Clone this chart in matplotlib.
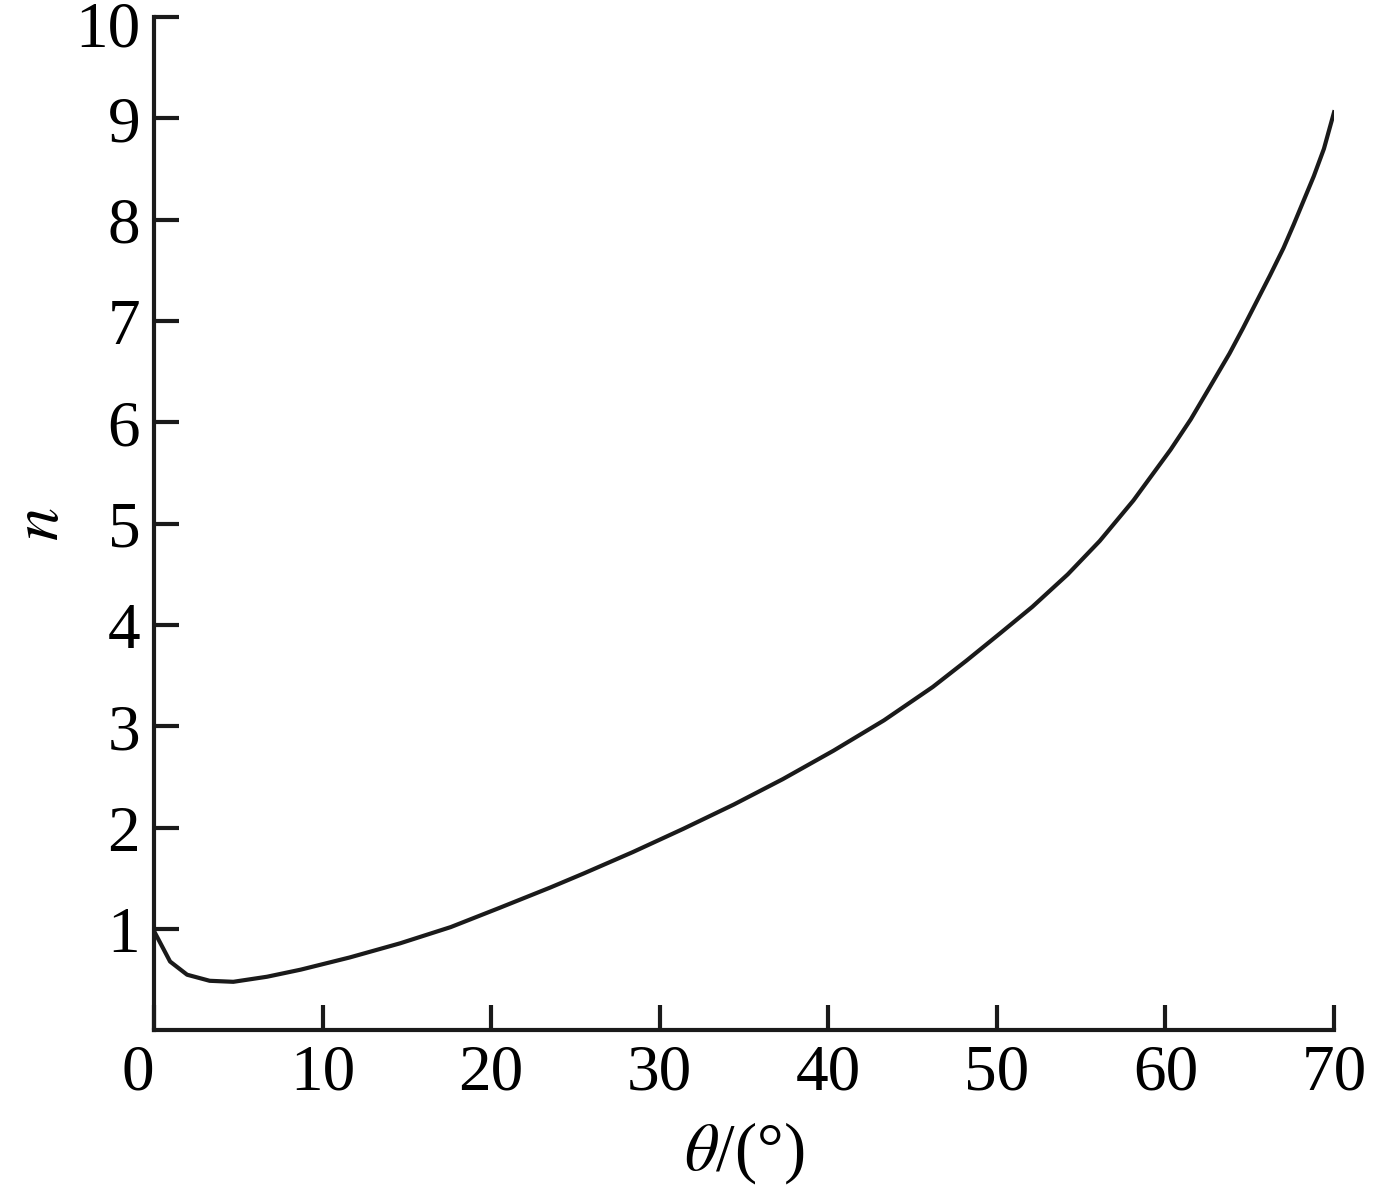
import matplotlib
matplotlib.use("Agg")
import matplotlib.pyplot as plt
import matplotlib.transforms as mtransforms

plt.rcParams['font.family'] = 'Liberation Serif'
plt.rcParams['mathtext.fontset'] = 'stix'

# angle (deg) and n
theta = [0, 0.95, 1.96, 3.3, 4.7, 6.7, 8.7, 11.6, 14.6, 17.6, 20.5, 23.5,
         25.5, 28.4, 31.4, 34.4, 37.3, 40.3, 43.3, 46.2, 48.2, 50.2, 52.1,
         54.2, 56.1, 58.1, 60.3, 61.5, 62.6, 63.8, 64.6, 65.4, 66.2, 67.0,
         67.6, 68.2, 68.8, 69.4, 70.0]
n = [0.98, 0.68, 0.55, 0.49, 0.48, 0.53, 0.60, 0.72, 0.86, 1.02, 1.21, 1.41,
     1.55, 1.76, 1.99, 2.23, 2.48, 2.76, 3.06, 3.39, 3.65, 3.92, 4.18,
     4.50, 4.83, 5.23, 5.73, 6.03, 6.34, 6.68, 6.93, 7.19, 7.45, 7.72,
     7.95, 8.19, 8.43, 8.70, 9.06]

xticks = [0, 10, 20, 30, 40, 50, 60, 70]
yticks = [1, 2, 3, 4, 5, 6, 7, 8, 9, 10]

fig = plt.figure(figsize=(13.83, 11.91), dpi=100)
ax = fig.add_axes([0.1114, 0.1348, 0.8532, 0.8509])
ax.plot(theta, n, color='#1a1a1a', lw=3.0)

ax.set_xlim(0, 70)
ax.set_ylim(0, 10)
ax.set_xticks(xticks)
ax.set_yticks(yticks)
ax.spines['top'].set_visible(False)
ax.spines['right'].set_visible(False)
for s in ['left', 'bottom']:
    ax.spines[s].set_linewidth(3)
    ax.spines[s].set_color('#1a1a1a')
ax.tick_params(direction='in', length=18, width=3, color='#1a1a1a',
               labelsize=47, pad=10)
ax.get_xticklabels()[0].set_horizontalalignment('right')
# nudge the top "10" down a little so it stays inside the figure
top_lbl = ax.get_yticklabels()[-1]
top_lbl.set_transform(top_lbl.get_transform() +
                      mtransforms.ScaledTranslation(0, -5 / 72, fig.dpi_scale_trans))
ax.set_xlabel(r'$\theta$/(°)', fontsize=48, labelpad=12)
ax.set_ylabel(r'$n$', fontsize=48, labelpad=2)

fig.savefig('out.png', dpi=100)
